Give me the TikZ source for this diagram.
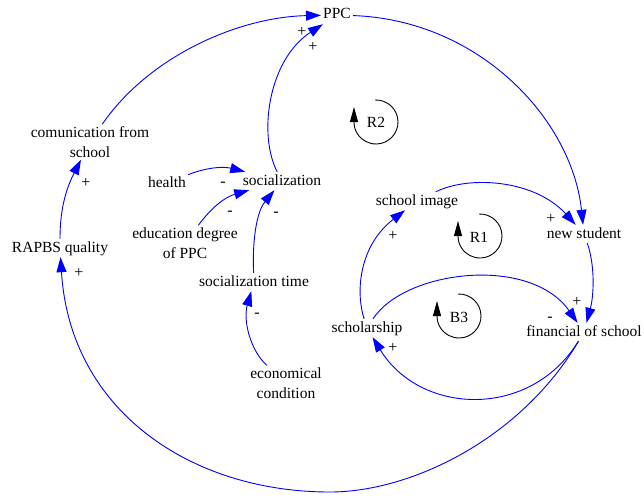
\documentclass[tikz,border=0pt]{standalone}
\usepackage{fontspec}
\setmainfont{Liberation Serif}
\usetikzlibrary{arrows.meta}
\begin{document}
\begin{tikzpicture}[x=1pt,y=-1pt,
  var1/.style={inner sep=2pt, font=\fontsize{15.5}{20}\selectfont, text height=11pt, text depth=3pt},
  var2/.style={inner sep=2pt, font=\fontsize{15.5}{20}\selectfont, align=center},
  lnk/.style={draw=blue, line width=0.9pt, -{Triangle[length=15pt,width=10pt]}},
  pol/.style={font=\fontsize{16}{20}\selectfont, inner sep=0pt},
  lbl/.style={font=\fontsize{15.5}{20}\selectfont, inner sep=0pt},
  loopar/.style={draw=black, line width=0.9pt, -{Triangle[length=15pt,width=8pt]}}
]
\useasboundingbox (0,0) rectangle (644,495);

% variables
\node[var1] (ppc) at (337,15) {PPC};
\node[var2] (comm) at (90,142) {comunication from\\school};
\node[var1] (health) at (167,183) {health};
\node[var1] (soc) at (282,181) {socialization};
\node[var2] (edu) at (185,243) {education degree\\of PPC};
\node[var1] (soct) at (254,282) {socialization time};
\node[var2] (econ) at (286,383) {economical\\condition};
\node[var1] (rapbs) at (60,248) {RAPBS quality};
\node[var1] (simg) at (417,201) {school image};
\node[var1] (news) at (584,234) {new student};
\node[var1] (schol) at (367,328) {scholarship};
\node[var1] (fin) at (584,332) {financial of school};
\coordinate (bot) at (330,492);

% links
\draw[lnk] (comm) .. controls (150,55) and (240,17) .. (ppc);
\draw[lnk] (soc) .. controls (258,135) and (268,60) .. (ppc);
\draw[lnk] (ppc) .. controls (480,20) and (572,120) .. (news);
\draw[lnk] (simg) .. controls (470,175) and (535,180) .. (news);
\draw[lnk] (health) .. controls (205,168) and (222,166) .. (soc);
\draw[lnk] (edu) .. controls (212,207) and (225,197) .. (soc);
\draw[lnk] (soct) .. controls (252,235) and (258,210) .. (soc);
\draw[lnk] (econ) .. controls (250,350) and (243,320) .. (soct);
\draw[lnk] (rapbs) .. controls (60,205) and (68,185) .. (comm);
\draw[lnk] (fin) .. controls (520,440) and (410,492) .. (bot) .. controls (190,492) and (70,410) .. (rapbs);
\draw[lnk] (news) .. controls (595,265) and (594,295) .. (fin);
\draw[lnk] (schol) .. controls (405,270) and (530,255) .. (fin);
\draw[lnk] (fin) .. controls (530,420) and (420,415) .. (schol);
\draw[lnk] (schol) .. controls (355,290) and (360,245) .. (simg);

% polarities
\node[pol] at (302,32) {+};
\node[pol] at (313,47) {+};
\node[pol] at (86,183) {+};
\node[pol] at (79,273) {+};
\node[pol] at (223,184) {-};
\node[pol] at (230,213) {-};
\node[pol] at (276,214) {-};
\node[pol] at (257,315) {-};
\node[pol] at (393,236) {+};
\node[pol] at (551,219) {+};
\node[pol] at (577,302) {+};
\node[pol] at (550,319) {-};
\node[pol] at (393,348) {+};

% loop markers
\draw[loopar] (376,122) ++(92:22pt) arc[start angle=92,end angle=-180,radius=22pt] -- ++(0,-15);
\node[lbl] at (376,122) {R2};
\draw[loopar] (480,236) ++(92:22pt) arc[start angle=92,end angle=-180,radius=22pt] -- ++(0,-15);
\node[lbl] at (479,237) {R1};
\draw[loopar] (459,316) ++(92:22pt) arc[start angle=92,end angle=-180,radius=22pt] -- ++(0,-15);
\node[lbl] at (459,317) {B3};
\end{tikzpicture}
\end{document}
